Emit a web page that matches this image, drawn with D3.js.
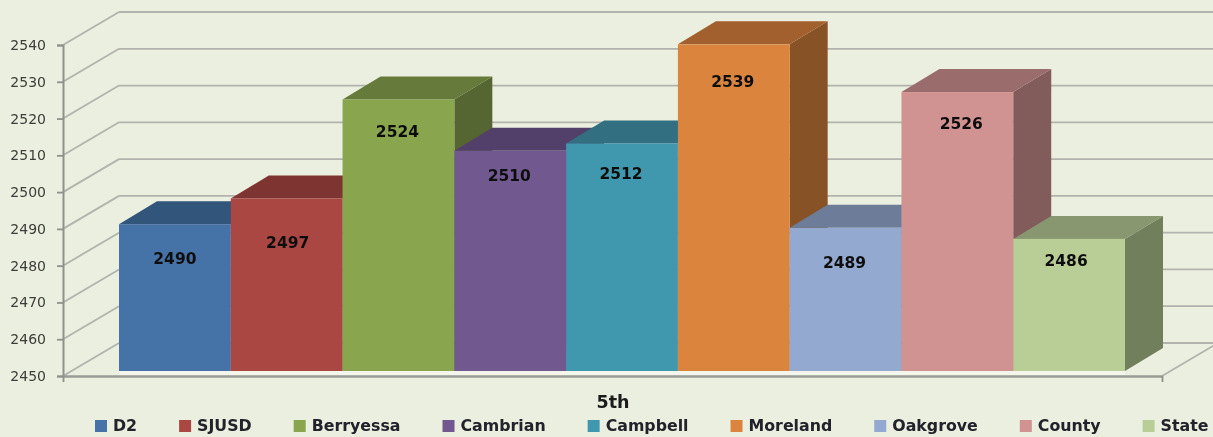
<!DOCTYPE html>
<html>
<head>
<meta charset="utf-8">
<script src="https://cdn.jsdelivr.net/npm/d3@7"></script>
<style>
  html, body { margin: 0; padding: 0; background: #ebefdf; overflow: hidden; }
  svg { display: block; }
  text { font-family: "DejaVu Sans", sans-serif; }
</style>
</head>
<body>
<svg id="chart" width="1213" height="437"></svg>
<script>
// values
var categories = ["D2", "SJUSD", "Berryessa", "Cambrian", "Campbell", "Moreland", "Oakgrove", "County", "State"];
var scores = [2490, 2497, 2524, 2510, 2512, 2539, 2489, 2526, 2486];
var yTicks = [2450, 2460, 2470, 2480, 2490, 2500, 2510, 2520, 2530, 2540];
var xTitle = "5th";

// office palette
var colors = ["#4572a7", "#aa4643", "#89a54e", "#71588f", "#4198af", "#db843d", "#93a9cf", "#d19392", "#b9cd96"];

// the value labels sit off centre in the original, nudges from the bar centre / bar top
var labelDx = [0, 1, -1, -1, -1, -1, -1, 4, -3];
var labelDy = [34, 44, 32, 25, 30, 37, 35, 31, 22];

var svg = d3.select("#chart");

var defs = svg.append("defs");
defs.append("filter").attr("id", "soft")
    .attr("x", "-5%").attr("y", "-5%").attr("width", "110%").attr("height", "110%")
  .append("feGaussianBlur").attr("stdDeviation", 0.45);

var g = svg.append("g").attr("filter", "url(#soft)");

g.append("rect").attr("width", 1213).attr("height", 437).attr("fill", "#ebefdf");

// front plane of the axis, the wall sits up and right of it
var wallDx = 56, wallDy = 33;
var axisY = d3.scaleLinear().domain([2450, 2540]).range([376, 45]);
var floorRight = 1162;

// bars stand a bit in front of the wall and have their own scale
var barY = d3.scaleLinear().domain([2450, 2540]).range([371, 40.7]);
var barX = d3.scaleBand().domain(categories).range([119, 1125]);
var depthX = 38, depthY = 23;

var gridColor = "#b2b3ad";

// wall gridlines and the slanted bits on the left
var grid = g.append("g");
grid.selectAll(".wall")
    .data(yTicks)
  .enter().append("line")
    .attr("x1", 63 + wallDx)
    .attr("x2", 1213 + 5)
    .attr("y1", function(d) { return axisY(d) - wallDy; })
    .attr("y2", function(d) { return axisY(d) - wallDy; })
    .attr("stroke", gridColor)
    .attr("stroke-width", 1.8);
grid.selectAll(".slant")
    .data(yTicks)
  .enter().append("line")
    .attr("x1", 63)
    .attr("x2", 63 + wallDx)
    .attr("y1", function(d) { return axisY(d); })
    .attr("y2", function(d) { return axisY(d) - wallDy; })
    .attr("stroke", gridColor)
    .attr("stroke-width", 1.8);
// floor edge on the right
grid.append("line")
    .attr("x1", floorRight).attr("x2", floorRight + wallDx)
    .attr("y1", axisY(2450)).attr("y2", axisY(2450) - wallDy)
    .attr("stroke", gridColor)
    .attr("stroke-width", 1.8);

// light strip of floor under the bars
g.append("rect")
    .attr("x", 119).attr("y", barY(2450))
    .attr("width", 1006).attr("height", 4)
    .attr("fill", "#f4f6ec");

// bars, left to right so the next one covers the side of the one before
var bars = g.selectAll(".bar")
    .data(categories)
  .enter().append("g")
    .attr("class", "bar");

function pts(a) {
  return a.map(function(p) { return p.join(","); }).join(" ");
}

bars.append("polygon") // side
    .attr("points", function(d, i) {
      var r = barX(d) + barX.bandwidth(), t = barY(scores[i]), b = barY(2450);
      return pts([[r, t], [r + depthX, t - depthY], [r + depthX, b - depthY], [r, b]]);
    })
    .attr("fill", function(d, i) { return d3.rgb(colors[i]).darker(1.35); });

bars.append("polygon") // top
    .attr("points", function(d, i) {
      var l = barX(d), r = l + barX.bandwidth(), t = barY(scores[i]);
      return pts([[l, t], [l + depthX, t - depthY], [r + depthX, t - depthY], [r, t]]);
    })
    .attr("fill", function(d, i) { return d3.rgb(colors[i]).darker(0.85); });

bars.append("rect") // front
    .attr("x", function(d) { return barX(d); })
    .attr("y", function(d, i) { return barY(scores[i]); })
    .attr("width", barX.bandwidth())
    .attr("height", function(d, i) { return barY(2450) - barY(scores[i]); })
    .attr("fill", function(d, i) { return colors[i]; });

// value labels go last, a neighbour bar should not paint over them
g.selectAll(".val")
    .data(categories)
  .enter().append("text")
    .attr("x", function(d, i) { return barX(d) + barX.bandwidth() / 2 + labelDx[i]; })
    .attr("y", function(d, i) { return barY(scores[i]) + labelDy[i]; })
    .attr("dy", "0.36em")
    .attr("text-anchor", "middle")
    .attr("font-size", 15.5)
    .attr("font-weight", "bold")
    .attr("fill", "#111")
    .text(function(d, i) { return scores[i]; });

// y axis
var yAxis = g.append("g")
    .attr("transform", "translate(63,0)")
    .call(d3.axisLeft(axisY).tickValues(yTicks).tickFormat(d3.format("d")).tickSize(6).tickPadding(11));
yAxis.selectAll("line").attr("stroke", "#8f918b").attr("stroke-width", 1.8);
yAxis.select(".domain").attr("stroke", "#8f918b").attr("stroke-width", 2);
yAxis.selectAll("text")
    .attr("font-family", "'DejaVu Sans', sans-serif")
    .attr("font-size", 14)
    .attr("fill", "#3c3c3a");

// bottom axis
var xLine = d3.scaleLinear().domain([0, 1]).range([63, floorRight]);
var xAxis = g.append("g")
    .attr("transform", "translate(0," + axisY(2450) + ")")
    .call(d3.axisBottom(xLine).tickValues([0, 1]).tickFormat("").tickSize(6).tickSizeOuter(0));
xAxis.selectAll("line").attr("stroke", "#8f918b").attr("stroke-width", 1.8);
xAxis.select(".domain").attr("stroke", "#9a9c96").attr("stroke-width", 2.4);

g.append("text")
    .attr("x", 613)
    .attr("y", 408)
    .attr("text-anchor", "middle")
    .attr("font-size", 17.5)
    .attr("font-weight", "bold")
    .attr("fill", "#1c1c1c")
    .text(xTitle);

// legend, swatch + name, each entry starts where the last one ended
var legend = g.append("g");
var cursor = 95;
categories.forEach(function(name, i) {
  legend.append("rect")
      .attr("x", cursor).attr("y", 420)
      .attr("width", 12).attr("height", 12)
      .attr("fill", colors[i]);
  var label = legend.append("text")
      .attr("x", cursor + 18)
      .attr("y", 431)
      .attr("font-size", 15.8)
      .attr("font-weight", "bold")
      .attr("fill", "#20202a")
      .text(name);
  cursor += 18 + label.node().getComputedTextLength() + 42;
});
</script>
</body>
</html>
